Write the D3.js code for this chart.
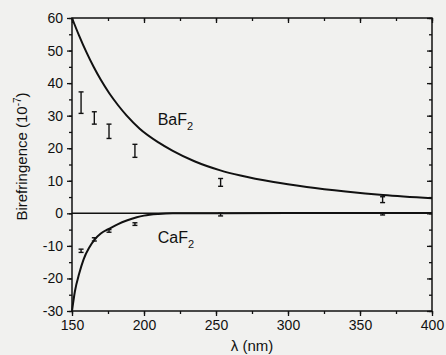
<!DOCTYPE html>
<html lang="en">
<head>
<meta charset="UTF-8">
<title>Birefringence</title>
<script src="https://d3js.org/d3.v7.min.js"></script>
<style>
  body { margin: 0; background: #f1f1ef; }
  svg { display: block; }
  text { font-family: "Liberation Sans", Arial, sans-serif; fill: #111; }
</style>
</head>
<body>
<svg></svg>
<script>
// model curves
var baCurveX = [150, 155, 160, 165, 170, 176, 182, 188, 197, 210, 220, 235, 253, 267, 290, 313, 340, 366, 400];
var baCurveY = [60, 54.5, 49.5, 45, 41, 36.8, 33.2, 30.0, 26.0, 21.8, 19.2, 16.0, 13.2, 11.6, 9.6, 8.1, 6.7, 5.6, 4.6];
var caCurveX = [150, 152, 155, 158, 162, 166, 170, 176, 182, 188, 195, 200, 210, 220, 250, 300, 400];
var caCurveY = [-30, -24, -18.5, -14.2, -10.5, -7.9, -6.2, -4.7, -3.3, -2.2, -1.2, -0.7, -0.2, 0, 0.05, 0.1, 0.1];

// measured points with error bars
var measX = [156.3, 165.5, 175.7, 193.7, 253.2, 365.7];
var baMean = [34.0, 29.3, 25.2, 19.2, 9.5, 4.2];
var baErr = [3.3, 1.9, 2.2, 2.0, 1.2, 0.9];
var caMean = [-11.5, -8.0, -5.4, -3.3, -0.4, -0.2];
var caErr = [0.5, 0.5, 0.4, 0.4, 0.4, 0.3];

var xMajor = [150, 200, 250, 300, 350, 400];
var yMajor = [-30, -20, -10, 0, 10, 20, 30, 40, 50, 60];

var W = 446, H = 355;
var m = {left: 72, top: 18, right: 14, bottom: 44};
var iw = W - m.left - m.right, ih = H - m.top - m.bottom;

var svg = d3.select("svg").attr("width", W).attr("height", H);
var g = svg.append("g").attr("transform", "translate(" + m.left + "," + m.top + ")");

var x = d3.scaleLinear().domain([150, 400]).range([0, iw]);
var y = d3.scaleLinear().domain([-30, 60]).range([ih, 0]);

var xMinor = d3.range(150, 401, 25);
var yMinor = d3.range(-30, 61, 5);

function style(sel) {
    sel.select(".domain").remove();
    sel.selectAll("line").attr("stroke", "#111").attr("stroke-width", 1.3);
    sel.selectAll("text").style("font-size", "14px");
}

// minor ticks
g.append("g").attr("transform", "translate(0," + ih + ")")
    .call(d3.axisBottom(x).tickValues(xMinor).tickSize(3).tickFormat(""))
    .call(style);
g.append("g").call(d3.axisLeft(y).tickValues(yMinor).tickSize(3).tickFormat(""))
    .call(style);
g.append("g").call(d3.axisBottom(x).tickValues(xMinor).tickSize(3).tickFormat(""))
    .call(style);
g.append("g").attr("transform", "translate(" + iw + ",0)")
    .call(d3.axisRight(y).tickValues(yMinor).tickSize(-3).tickFormat(""))
    .call(style);

// major ticks
g.append("g").attr("transform", "translate(0," + ih + ")")
    .call(d3.axisBottom(x).tickValues(xMajor).tickSize(5).tickPadding(4).tickFormat(d3.format("d")))
    .call(style);
var ya = g.append("g")
    .call(d3.axisLeft(y).tickValues(yMajor).tickSize(5).tickPadding(4).tickFormat(d3.format("d")))
    .call(style);
g.append("g").call(d3.axisBottom(x).tickValues(xMajor).tickSize(5).tickFormat(""))
    .call(style);
g.append("g").attr("transform", "translate(" + iw + ",0)")
    .call(d3.axisRight(y).tickValues(yMajor).tickSize(-5).tickFormat(""))
    .call(style);
ya.selectAll("text").text(function (d) { return d; });

// frame
g.append("rect").attr("width", iw).attr("height", ih)
    .attr("fill", "none").attr("stroke", "#111").attr("stroke-width", 1.5);

// zero line
g.append("line").attr("x1", 0).attr("x2", iw).attr("y1", y(0)).attr("y2", y(0))
    .attr("stroke", "#111").attr("stroke-width", 1.5);

var line = d3.line()
    .x(function (d) { return x(d[0]); })
    .y(function (d) { return y(d[1]); })
    .curve(d3.curveMonotoneX);

g.append("path").datum(d3.zip(baCurveX, baCurveY)).attr("d", line)
    .attr("fill", "none").attr("stroke", "#111").attr("stroke-width", 2);
g.append("path").datum(d3.zip(caCurveX, caCurveY)).attr("d", line)
    .attr("fill", "none").attr("stroke", "#111").attr("stroke-width", 2);

function errorBars(means, errs) {
    var pts = measX.map(function (v, i) { return {x: v, m: means[i], e: errs[i]}; });
    var eb = g.append("g").selectAll("g").data(pts).enter().append("g");
    eb.append("line")
        .attr("x1", function (d) { return x(d.x); }).attr("x2", function (d) { return x(d.x); })
        .attr("y1", function (d) { return y(d.m - d.e); }).attr("y2", function (d) { return y(d.m + d.e); })
        .attr("stroke", "#111").attr("stroke-width", 1.4);
    [1, -1].forEach(function (s) {
        eb.append("line")
            .attr("x1", function (d) { return x(d.x) - 2.5; }).attr("x2", function (d) { return x(d.x) + 2.5; })
            .attr("y1", function (d) { return y(d.m + s * d.e); }).attr("y2", function (d) { return y(d.m + s * d.e); })
            .attr("stroke", "#111").attr("stroke-width", 1.4);
    });
}
errorBars(baMean, baErr);
errorBars(caMean, caErr);

// curve labels
function label(txt, px, py) {
    var t = g.append("text").attr("x", px).attr("y", py).style("font-size", "16px");
    t.append("tspan").text(txt);
    t.append("tspan").attr("dy", 5).style("font-size", "11px").text("2");
}
label("BaF", x(209.5), y(27));
label("CaF", x(209.5), y(-9.2));

// axis titles
svg.append("text")
    .attr("x", m.left + iw / 2).attr("y", 351)
    .attr("text-anchor", "middle").style("font-size", "15px")
    .text("\u03bb (nm)");

var yt = svg.append("text")
    .attr("transform", "translate(27," + (m.top + ih / 2 - 8) + ") rotate(-90)")
    .attr("text-anchor", "middle").style("font-size", "15px");
yt.append("tspan").text("Birefringence (10");
yt.append("tspan").attr("dy", -6).style("font-size", "10px").text("-7");
yt.append("tspan").attr("dy", 6).text(")");
</script>
</body>
</html>
